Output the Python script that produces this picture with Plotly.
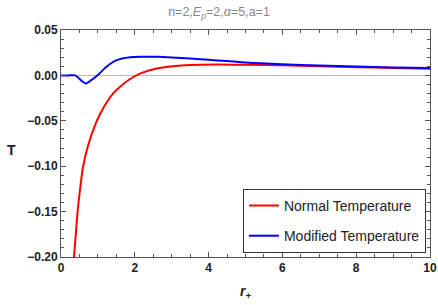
import plotly.graph_objects as go

# Data
r_normal = [0.352, 0.40, 0.45, 0.515, 0.60, 0.74, 0.95, 1.06, 1.24, 1.42, 1.69, 1.85, 2.14, 2.59, 3.04, 3.5, 4.2, 5.0, 6.0, 7.0, 8.0, 9.0, 10.0]
T_normal = [-0.200, -0.1755, -0.150, -0.126, -0.100, -0.0763, -0.052, -0.0425, -0.0295, -0.0195, -0.0095, -0.0045, 0.002, 0.0077, 0.0102, 0.0115, 0.0121, 0.0118, 0.0111, 0.0101, 0.0091, 0.0082, 0.0073]

r_mod = [0, 0.2, 0.38, 0.47, 0.57, 0.68, 0.80, 1.0, 1.24, 1.51, 1.87, 2.2, 2.6, 3.0, 3.5, 4.0, 5.0, 6.0, 7.0, 8.0, 9.0, 10.0]
T_mod = [0, 0, 0, -0.0025, -0.0065, -0.0088, -0.0058, 0.0005, 0.0098, 0.0168, 0.0200, 0.0206, 0.0205, 0.0198, 0.0185, 0.0172, 0.0142, 0.0122, 0.0108, 0.0097, 0.0088, 0.0081]

x_ticks = [0, 2, 4, 6, 8, 10]
y_ticks = [0.05, 0.00, -0.05, -0.10, -0.15, -0.20]
y_labels = ["0.05", "0.00", "\u22120.05", "\u22120.10", "\u22120.15", "\u22120.20"]

FONT = "Liberation Sans, Arial, sans-serif"

fig = go.Figure()
fig.add_trace(go.Scatter(x=r_normal, y=T_normal, mode="lines", name="Normal Temperature",
                         legendgroup="a",
                         line=dict(color="#ff0000", width=2, shape="spline", smoothing=0.8)))
fig.add_trace(go.Scatter(x=r_mod, y=T_mod, mode="lines", name="Modified Temperature",
                         legendgroup="b",
                         line=dict(color="#0000ff", width=2, shape="spline", smoothing=0.8)))

axis_common = dict(showline=True, linecolor="#555555", linewidth=1, mirror="allticks",
                   ticks="inside", ticklen=5, tickcolor="#555555", showgrid=False,
                   automargin=False,
                   tickfont=dict(family=FONT, size=12, color="#222222", weight="bold"))

fig.update_layout(
    width=438, height=305,
    margin=dict(l=61, r=8, t=30, b=48),
    paper_bgcolor="white", plot_bgcolor="white",
    title=dict(text="n=2,<i>E</i><sub><i>p</i></sub>=2,<i>\u03b1</i>=5,a=1", x=0.5, xanchor="center",
               yref="container", y=0.962, yanchor="middle",
               font=dict(family=FONT, size=12.5, color="#888888")),
    xaxis=dict(range=[0, 10], tickvals=x_ticks, ticktext=[str(v) for v in x_ticks],
               zeroline=False,
               minor=dict(dtick=0.5, ticks="inside", ticklen=3, tickcolor="#555555"),
               **axis_common),
    yaxis=dict(range=[-0.20, 0.05], tickvals=y_ticks, ticktext=y_labels,
               zeroline=True, zerolinecolor="#bbbbbb", zerolinewidth=1,
               minor=dict(dtick=0.01, ticks="inside", ticklen=3, tickcolor="#555555"),
               **axis_common),
    annotations=[
        dict(text="<b><i>r</i></b><sub><b>+</b></sub>", xref="paper", yref="paper",
             x=0.499, y=-0.154, xanchor="center", yanchor="middle", showarrow=False,
             font=dict(family=FONT, size=14, color="#222222")),
        dict(text="<b>T</b>", xref="paper", yref="paper",
             x=-0.133, y=0.471, xanchor="center", yanchor="middle", showarrow=False,
             font=dict(family=FONT, size=14, color="#222222")),
    ],
    legend=dict(x=0.989, y=0.018, xanchor="right", yanchor="bottom",
                bgcolor="white", bordercolor="#333333", borderwidth=1,
                font=dict(family=FONT, size=14, color="#222222"),
                itemwidth=30, tracegroupgap=9),
    showlegend=True,
)

fig.write_html("out.html", config={"displayModeBar": False},
               post_script="document.body.style.margin='0';")
